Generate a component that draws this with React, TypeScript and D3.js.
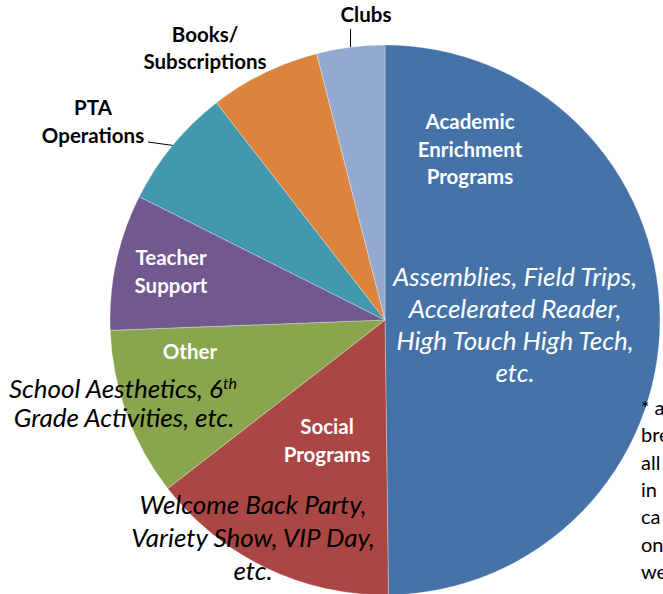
import { useRef, useEffect } from 'react';
import { select, pie, arc } from 'd3';

// share of budget per category (percent), clockwise from 12 o'clock
const categories = ['Academic Enrichment Programs', 'Social Programs', 'Other', 'Teacher Support', 'PTA Operations', 'Books/ Subscriptions', 'Clubs'];
const values = [49.8, 14.7, 9.9, 8.0, 7.1, 6.5, 4.0];
const colors = ['#4572A7', '#AA4643', '#89A54E', '#71588F', '#4198AF', '#DB843D', '#93A9CF'];

const W = 663;
const H = 594;
const cx = 385;
const cy = 320;
const R = 275;
const FONT = 'Lato, "Open Sans", sans-serif';

export default function App() {
  const ref = useRef<SVGSVGElement>(null);

  useEffect(() => {
    if (!ref.current) return;
    const svg = select(ref.current);
    svg.selectAll('*').remove();

    const data = categories.map((name, i) => ({ name, value: values[i], color: colors[i] }));
    const arcs = pie<any>().sort(null).value(d => d.value)(data);
    const path = arc<any>().innerRadius(0).outerRadius(R);

    const g = svg.append('g').attr('transform', `translate(${cx},${cy})`);
    g.selectAll('path')
      .data(arcs)
      .join('path')
      .attr('d', path)
      .attr('fill', d => d.data.color)
      .attr('stroke', '#ffffff')
      .attr('stroke-opacity', 0.5)
      .attr('stroke-width', 0.6);

    const text = (x: number, y: number, lines: string[], opts: any) => {
      const t = svg.append('text')
        .attr('x', x)
        .attr('y', y)
        .attr('text-anchor', opts.anchor || 'middle')
        .attr('font-family', FONT)
        .attr('font-size', opts.size)
        .attr('font-weight', opts.bold ? 700 : 400)
        .attr('font-style', opts.italic ? 'italic' : 'normal')
        .attr('fill', opts.fill || '#000');
      lines.forEach((l, i) => {
        t.append('tspan').attr('x', x).attr('y', y + i * opts.lh).attr('dy', '0.35em').text(l);
      });
      return t;
    };

    const B = 20.5; // bold label size
    const I = 26; // italic description size

    // inside labels
    text(470, 122, ['Academic', 'Enrichment', 'Programs'], { size: B, bold: true, fill: '#fff', lh: 27.5 });
    text(515, 277, ['Assemblies, Field Trips,', 'Accelerated Reader,', 'High Touch High Tech,', 'etc.'], { size: I, italic: true, fill: '#fff', lh: 32 });
    text(327, 427, ['Social', 'Programs'], { size: B, bold: true, fill: '#fff', lh: 28 });
    text(253, 505, ['Welcome Back Party,', 'Variety Show, VIP Day,', 'etc.'], { size: I, italic: true, lh: 33 });
    text(190, 352, ['Other'], { size: B, bold: true, fill: '#fff', lh: 28 });
    text(171, 258, ['Teacher', 'Support'], { size: B, bold: true, fill: '#fff', lh: 28 });

    // School Aesthetics with superscript
    const sa = svg.append('text')
      .attr('x', 123)
      .attr('y', 389)
      .attr('dy', '0.35em')
      .attr('text-anchor', 'middle')
      .attr('font-family', FONT)
      .attr('font-size', I)
      .attr('font-style', 'italic')
      .attr('fill', '#000');
    sa.append('tspan').text('School Aesthetics, 6');
    sa.append('tspan').attr('dy', '-0.55em').attr('font-size', 16).text('th');
    text(124, 418, ['Grade Activities, etc.'], { size: I, italic: true, lh: 30 });

    // outside labels with leader lines
    text(93, 108, ['PTA', 'Operations'], { size: B, bold: true, lh: 28 });
    text(205, 35, ['Books/', 'Subscriptions'], { size: B, bold: true, lh: 27 });
    text(366, 15, ['Clubs'], { size: B, bold: true, lh: 27 });

    const mid = (i: number) => (arcs[i].startAngle + arcs[i].endAngle) / 2;
    const edge = (i: number) => [cx + R * Math.sin(mid(i)), cy - R * Math.cos(mid(i))];
    const [px, py] = edge(4);
    svg.append('polyline')
      .attr('points', `${px},${py} 148,142`)
      .attr('fill', 'none')
      .attr('stroke', '#000')
      .attr('stroke-width', 1);
    const [clx, cly] = edge(6);
    svg.append('polyline')
      .attr('points', `${clx},${cly} ${clx},29`)
      .attr('fill', 'none')
      .attr('stroke', '#000')
      .attr('stroke-width', 1);

    // footnote, cut off by the right edge as in the original
    text(641, 408, ['* a', 'bre', 'all', 'in', 'ca', 'on', 'we'], { size: 20, anchor: 'start', lh: 27.3 });
  }, []);

  return (
    <svg
      ref={ref}
      width={W}
      height={H}
      style={{ position: 'absolute', left: 0, top: 0, background: '#fff', overflow: 'hidden' }}
    />
  );
}
